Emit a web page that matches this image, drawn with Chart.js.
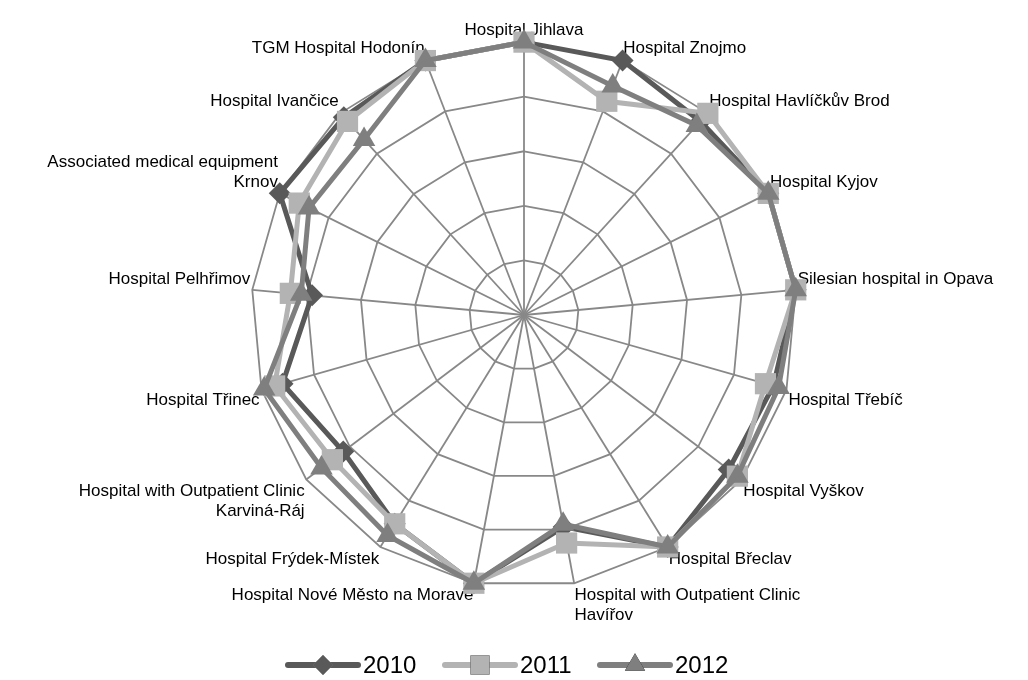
<!DOCTYPE html>
<html lang="en">
<head>
    <meta charset="UTF-8">
    <title>Hospital efficiency radar</title>
    <script src="https://cdn.jsdelivr.net/npm/chart.js"></script>
    <style>
        body { margin: 0; padding: 0; background: #fff; }
        .chart-box { width: 1028px; height: 680px; }
    </style>
</head>
<body>
    <div class="chart-box">
        <canvas id="radarChart"></canvas>
    </div>

    <script>
        // categories (clockwise from top)
        const hospitals = [
            'Hospital Jihlava',
            'Hospital Znojmo',
            'Hospital Havlíčkův Brod',
            'Hospital Kyjov',
            'Silesian hospital in Opava',
            'Hospital Třebíč',
            'Hospital Vyškov',
            'Hospital Břeclav',
            ['Hospital with Outpatient Clinic', 'Havířov'],
            'Hospital Nové Město na Moravě',
            'Hospital Frýdek-Místek',
            ['Hospital with Outpatient Clinic', 'Karviná-Ráj'],
            'Hospital Třinec',
            'Hospital Pelhřimov',
            ['Associated medical equipment', 'Krnov'],
            'Hospital Ivančice',
            'TGM Hospital Hodonín'
        ];

        const years = ['2010', '2011', '2012'];
        const values2010 = [1, 1, 0.96, 1, 1, 0.95, 0.94, 1, 0.79, 1, 0.90, 0.83, 0.92, 0.78, 1, 0.98, 1];
        const values2011 = [1, 0.84, 1, 1, 1, 0.92, 0.98, 1, 0.85, 1, 0.90, 0.88, 0.95, 0.86, 0.92, 0.96, 1];
        const values2012 = [1, 0.90, 0.94, 1, 1, 0.97, 0.98, 1, 0.78, 1, 0.95, 0.93, 0.99, 0.82, 0.88, 0.87, 1];

        const colors = ['#595959', '#b3b3b3', '#7f7f7f'];
        const markers = ['rectRot', 'rect', 'triangle'];
        const markerSize = [11, 15, 13];
        const series = [values2010, values2011, values2012];

        const FONT = '"Liberation Sans", Arial, sans-serif';

        // Excel-style legend: line with marker in the middle
        const lineLegend = {
            id: 'lineLegend',
            afterDraw(chart) {
                const ctx = chart.ctx;
                const y = 665;
                const xs = [288, 445, 600];
                ctx.save();
                ctx.font = '24px ' + FONT;
                ctx.textBaseline = 'middle';
                years.forEach((yr, i) => {
                    const x = xs[i];
                    ctx.strokeStyle = colors[i];
                    ctx.lineWidth = 6;
                    ctx.lineCap = 'round';
                    ctx.beginPath();
                    ctx.moveTo(x, y);
                    ctx.lineTo(x + 70, y);
                    ctx.stroke();
                    Chart.helpers.drawPoint(ctx, {
                        pointStyle: markers[i], radius: markerSize[i] * 0.9, borderWidth: 0
                    }, x + 35, y);
                    ctx.fillStyle = colors[i];
                    ctx.fill();
                    ctx.fillStyle = '#000';
                    ctx.fillText(yr, x + 75, y + 1);
                });
                ctx.restore();
            }
        };

        new Chart(document.getElementById('radarChart'), {
            type: 'radar',
            data: {
                labels: hospitals,
                datasets: years.map((yr, i) => ({
                    label: yr,
                    data: series[i],
                    borderColor: colors[i],
                    backgroundColor: colors[i],
                    borderWidth: 5,
                    fill: false,
                    pointStyle: markers[i],
                    pointRadius: markerSize[i],
                    pointHoverRadius: markerSize[i],
                    pointBackgroundColor: colors[i],
                    pointBorderColor: colors[i],
                    pointBorderWidth: 0,
                    order: 2 - i
                }))
            },
            options: {
                responsive: true,
                maintainAspectRatio: false,
                animation: false,
                layout: { padding: { top: 12, bottom: 46, left: 16, right: 0 } },
                plugins: {
                    legend: { display: false },
                    tooltip: { enabled: false }
                },
                scales: {
                    r: {
                        min: 0,
                        max: 1,
                        ticks: { stepSize: 0.2, display: false },
                        grid: { color: '#888', lineWidth: 1.8 },
                        angleLines: { color: '#888', lineWidth: 1.8 },
                        pointLabels: {
                            color: '#000',
                            padding: 2,
                            font: { family: FONT, size: 17 }
                        }
                    }
                }
            },
            plugins: [lineLegend]
        });
    </script>
</body>
</html>
